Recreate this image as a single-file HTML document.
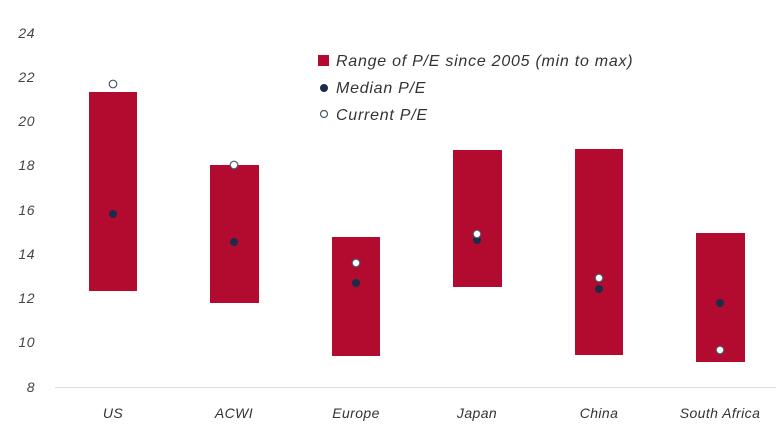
<!DOCTYPE html>
<html><head><meta charset="utf-8"><style>
body{margin:0;background:#fff}
svg{display:block;font-family:"Liberation Sans",sans-serif;font-style:italic}
</style></head><body>
<svg width="783" height="446" viewBox="0 0 783 446">
<g font-size="14" fill="#444" text-anchor="end" letter-spacing="0.5">
<text x="35" y="38">24</text><text x="35" y="82">22</text><text x="35" y="126">20</text>
<text x="35" y="170">18</text><text x="35" y="215">16</text><text x="35" y="259">14</text>
<text x="35" y="303">12</text><text x="35" y="347">10</text><text x="35" y="392">8</text>
</g>
<line x1="55" y1="387.5" x2="776" y2="387.5" stroke="#ddd" stroke-width="1"/>
<g fill="#b30a30">
<rect x="89" y="92" width="48" height="199"/>
<rect x="210" y="165" width="49" height="138"/>
<rect x="332" y="237" width="48" height="119"/>
<rect x="453" y="150" width="49" height="137"/>
<rect x="575" y="149" width="48" height="206"/>
<rect x="696" y="233" width="49" height="129"/>
</g>
<g fill="#1c2b4a">
<circle cx="113" cy="214" r="4"/><circle cx="234" cy="242" r="4"/><circle cx="356" cy="283" r="4"/>
<circle cx="477" cy="240" r="4"/><circle cx="599" cy="289" r="4"/><circle cx="720" cy="303" r="4"/>
</g>
<g fill="#fff" stroke="#4a5a6a" stroke-width="1.2">
<circle cx="113" cy="84" r="3.8"/><circle cx="234" cy="165" r="3.8"/><circle cx="356" cy="263" r="3.8"/>
<circle cx="477" cy="234" r="3.8"/><circle cx="599" cy="278" r="3.8"/><circle cx="720" cy="350" r="3.8"/>
</g>
<g font-size="14" fill="#333" text-anchor="middle" letter-spacing="0.4">
<text x="113" y="418">US</text><text x="234" y="418">ACWI</text><text x="356" y="418">Europe</text>
<text x="477" y="418">Japan</text><text x="599" y="418">China</text><text x="720" y="418">South Africa</text>
</g>
<rect x="318" y="55" width="11" height="11" fill="#b30a30"/>
<circle cx="324" cy="88" r="4" fill="#1c2b4a"/>
<circle cx="324" cy="114" r="3.5" fill="#fff" stroke="#4a5a6a" stroke-width="1.2"/>
<g font-size="16" fill="#333" letter-spacing="0.75">
<text x="336" y="66">Range of P/E since 2005 (min to max)</text>
<text x="336" y="93">Median P/E</text>
<text x="336" y="120">Current P/E</text>
</g>
</svg>
</body></html>
